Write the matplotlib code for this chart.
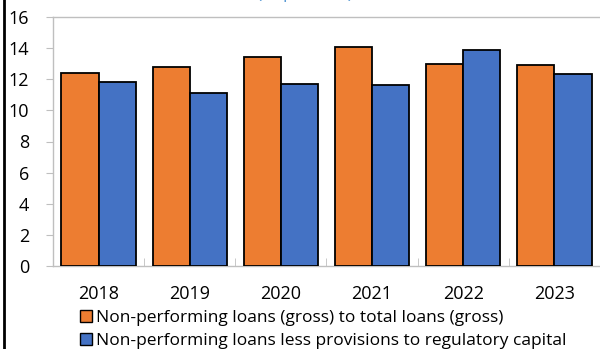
import matplotlib
matplotlib.use("Agg")
import matplotlib.pyplot as plt
import numpy as np
from matplotlib.patches import Patch
from matplotlib.lines import Line2D

years = ["2018", "2019", "2020", "2021", "2022", "2023"]
npl_gross = [12.4, 12.8, 13.4, 14.05, 13.0, 12.9]
npl_net_capital = [11.8, 11.1, 11.7, 11.6, 13.85, 12.35]
labels = ["Non-performing loans (gross) to total loans (gross)",
          "Non-performing loans less provisions to regulatory capital"]
yticks = [0, 2, 4, 6, 8, 10, 12, 14, 16]

plt.rcParams['font.family'] = ['Open Sans', 'DejaVu Sans']

orange = "#ED7D31"
blue = "#4472C4"

fig = plt.figure(figsize=(6, 3.49), dpi=100)
W, H = 600, 349
ax = fig.add_axes([53 / W, 1 - 266 / H, (600 - 53) / W, (266 - 17) / H])

x = np.arange(len(years))
bw = 0.407
ax.bar(x - bw / 2, npl_gross, bw, color=orange, edgecolor="black", linewidth=1.3, zorder=3)
ax.bar(x + bw / 2, npl_net_capital, bw, color=blue, edgecolor="black", linewidth=1.3, zorder=3)

ax.set_xlim(-0.5, len(years) - 0.5)
ax.set_ylim(0, 16)
ax.set_yticks(yticks)
ax.set_yticklabels([str(t) for t in yticks], fontsize=13)
ax.set_xticks(x)
ax.set_xticklabels(years, fontsize=13)
ax.tick_params(axis='x', length=0, pad=14)
ax.set_xticks(np.arange(0.5, len(years) - 0.5, 1), minor=True)
ax.tick_params(axis='x', which='minor', length=6, direction='in', color="#BFBFBF")
ax.tick_params(axis='y', length=5, color="#BFBFBF", pad=12)

for s in ["left", "bottom", "top"]:
    ax.spines[s].set_color("#BFBFBF")
    ax.spines[s].set_linewidth(1.0)
ax.spines["right"].set_visible(False)

handles = [Patch(facecolor=orange, edgecolor="black", linewidth=1.0),
           Patch(facecolor=blue, edgecolor="black", linewidth=1.0)]
fig.legend(handles, labels, loc="upper left", bbox_to_anchor=(80 / W, 1 - 310 / H),
           frameon=False, fontsize=12.5, handlelength=0.7, handleheight=0.7,
           handletextpad=0.25, labelspacing=0.4, borderpad=0, borderaxespad=0)

# partial title cut off at top (only the bottom of the brackets shows)
fig.text(305 / W, 1 + 6.5 / H, "(In percent)", color="#5B9BD5", fontsize=13,
         ha="center", va="center")

# left border line
fig.add_artist(Line2D([4 / W, 4 / W], [0, 1], color="black", linewidth=2.0,
                      transform=fig.transFigure))

fig.savefig("out.png", dpi=100)
